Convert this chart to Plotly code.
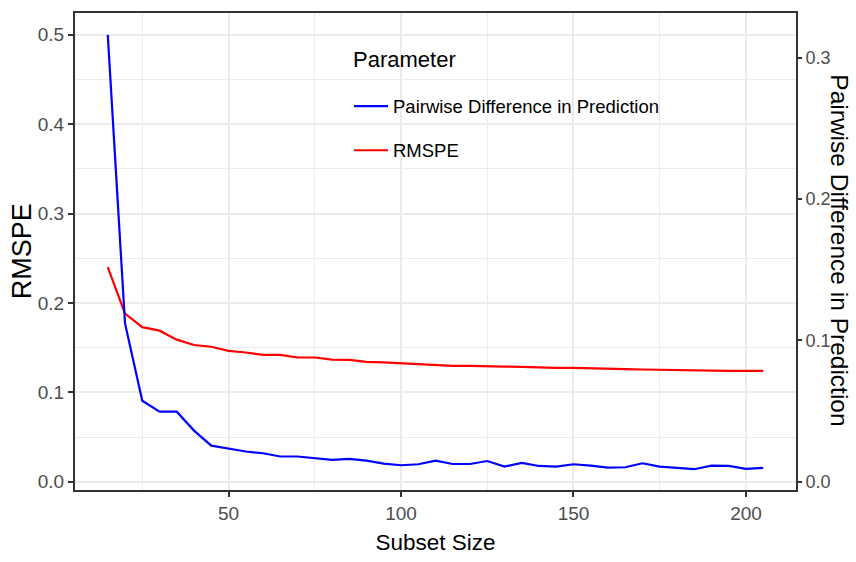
import plotly.graph_objects as go

subset_size = list(range(15, 210, 5))

rmspe = [0.240, 0.188, 0.173, 0.169, 0.159, 0.153, 0.151, 0.1465, 0.1446, 0.142,
         0.142, 0.139, 0.139, 0.1366, 0.1364, 0.1342, 0.1335, 0.1326, 0.1315, 0.1307,
         0.1296, 0.1296, 0.1289, 0.1289, 0.1285, 0.1278, 0.1274, 0.1274, 0.1267, 0.1259,
         0.1259, 0.1256, 0.1252, 0.1252, 0.1248, 0.1244, 0.1241, 0.1241, 0.1241]

pairwise = [0.316, 0.112, 0.0573, 0.0496, 0.0496, 0.0362, 0.0256, 0.0237, 0.0214, 0.0202,
            0.0179, 0.0179, 0.0167, 0.0155, 0.0162, 0.0150, 0.0129, 0.0117, 0.0124, 0.0150,
            0.0126, 0.0126, 0.0147, 0.0107, 0.0133, 0.0112, 0.0107, 0.0124, 0.0114, 0.0100,
            0.0103, 0.0131, 0.0107, 0.0099, 0.0089, 0.0114, 0.0112, 0.0091, 0.0099]

x_ticks = [50, 100, 150, 200]
y_ticks = [0.0, 0.1, 0.2, 0.3, 0.4, 0.5]
y2_ticks = [0.0, 0.1, 0.2, 0.3]

FONT = "Liberation Sans, Arial, sans-serif"
TICK_COL = "#4D4D4D"
GRID = "#EBEBEB"
BORDER = "#333333"

# plot area in pixels: x 75..796, y 11..493.3
L, T, W, H = 75, 11, 721, 482.3
def px(xp):
    return (xp - L) / W
def py(yp):
    return (T + H - yp) / H

fig = go.Figure()
fig.add_trace(go.Scatter(x=subset_size, y=pairwise, mode="lines", name="Pairwise Difference in Prediction",
                         line=dict(color="#0000FF", width=2.2), yaxis="y2", legendgroup="a"))
fig.add_trace(go.Scatter(x=subset_size, y=rmspe, mode="lines", name="RMSPE",
                         line=dict(color="#FF0000", width=2.2), yaxis="y", legendgroup="b"))

fig.update_layout(
    width=856, height=562,
    margin=dict(l=75, r=60, t=11, b=68.7),
    paper_bgcolor="white", plot_bgcolor="white",
    font=dict(family=FONT, size=19, color="black"),
    xaxis=dict(range=[5.5, 214.5], tickvals=x_ticks, showgrid=True, gridcolor=GRID, gridwidth=1.5,
               minor=dict(tickvals=[25, 75, 125, 175], showgrid=True, gridcolor=GRID, gridwidth=0.8, ticks=""),
               zeroline=False, showline=True, linecolor=BORDER, linewidth=2, mirror=True,
               ticks="outside", ticklen=5, tickwidth=1.5, tickcolor=BORDER,
               tickfont=dict(family=FONT, size=19, color=TICK_COL),
               title=dict(text="Subset Size", font=dict(family=FONT, size=22.5, color="black"), standoff=11)),
    yaxis=dict(range=[-0.0092, 0.5243], tickvals=y_ticks, tickformat=".1f", showgrid=True, gridcolor=GRID, gridwidth=1.5,
               minor=dict(tickvals=[0.05, 0.15, 0.25, 0.35, 0.45], showgrid=True, gridcolor=GRID, gridwidth=0.8, ticks=""),
               zeroline=False, showline=True, linecolor=BORDER, linewidth=2,
               ticks="outside", ticklen=5, tickwidth=1.5, tickcolor=BORDER,
               tickfont=dict(family=FONT, size=19, color=TICK_COL)),
    yaxis2=dict(range=[-0.0058, 0.3315], tickvals=y2_ticks, tickformat=".1f", overlaying="y", side="right",
                showgrid=False, zeroline=False, showline=True, linecolor=BORDER, linewidth=2,
                ticks="outside", ticklen=4, tickwidth=1.5, tickcolor=BORDER,
                tickfont=dict(family=FONT, size=18, color=TICK_COL)),
    legend=dict(x=px(349), y=py(86.5), xanchor="left", yanchor="top", bgcolor="rgba(0,0,0,0)",
                font=dict(family=FONT, size=18.5, color="black"),
                tracegroupgap=17, itemwidth=34),
    shapes=[
        dict(type="rect", xref="paper", yref="paper", x0=px(338), x1=px(675), y0=py(192), y1=py(20),
             fillcolor="white", line=dict(width=0), layer="between"),
    ],
    annotations=[
        dict(text="Parameter", xref="paper", yref="paper", x=px(351), y=py(58), xanchor="left", yanchor="middle",
             showarrow=False, font=dict(family=FONT, size=22, color="black")),
        dict(text="RMSPE", xref="paper", yref="paper", x=px(22), y=py(252), xanchor="center", yanchor="middle",
             textangle=-90, showarrow=False, font=dict(family=FONT, size=27, color="black")),
        dict(text="Pairwise Difference in Prediction", xref="paper", yref="paper", x=px(840), y=py(251),
             xanchor="center", yanchor="middle", borderpad=0,
             textangle=90, showarrow=False, font=dict(family=FONT, size=24.5, color="black")),
    ],
)

fig.write_html("out.html")
